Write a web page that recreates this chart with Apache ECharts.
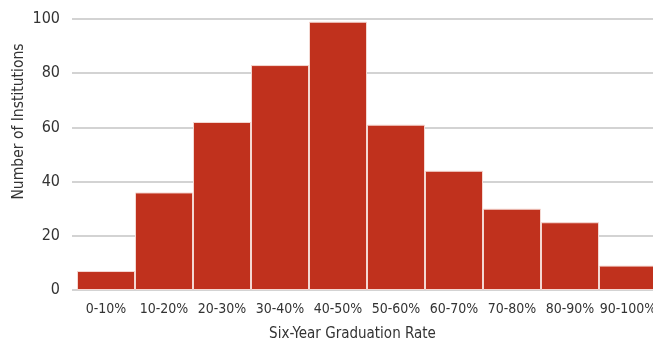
<!DOCTYPE html>
<html>
<head>
<meta charset="utf-8">
<script src="https://cdn.jsdelivr.net/npm/echarts@6/dist/echarts.min.js"></script>
<style>
  html, body { margin: 0; padding: 0; background: #fff; }
  #chart { width: 653px; height: 341px; }
</style>
</head>
<body>
<div id="chart"></div>
<script>
// Distribution of six-year graduation rates across institutions
const rateBins = ['0-10%', '10-20%', '20-30%', '30-40%', '40-50%', '50-60%', '60-70%', '70-80%', '80-90%', '90-100%'];
const institutionCounts = [7, 36, 62, 83, 99, 61, 44, 30, 25, 9];
const countTicks = { min: 0, max: 100, interval: 20 };

const FONT = '"Liberation Sans Narrow", "DejaVu Sans Condensed", Roboto, sans-serif';
const TEXT = '#333333';

const chart = echarts.init(document.getElementById('chart'), null, { renderer: 'canvas' });

chart.setOption({
  animation: false,
  backgroundColor: '#ffffff',
  grid: [
    // grid 0 carries the value axis, its gridlines and titles
    { left: 72, right: 0, top: 19, bottom: 51, outerBoundsMode: 'none', containLabel: false },
    // grid 1 carries the histogram bars
    { left: 77, width: 580, top: 19, bottom: 51, outerBoundsMode: 'none', containLabel: false }
  ],
  xAxis: [
    {
      gridIndex: 0, type: 'category', data: rateBins,
      axisLine: { show: false }, axisTick: { show: false }, axisLabel: { show: false },
      name: 'Six-Year Graduation Rate', nameLocation: 'middle', nameGap: 37, nameMoveOverlap: false,
      nameTextStyle: { fontFamily: FONT, fontSize: 15, color: TEXT, padding: [0, 20, 0, 0] }
    },
    {
      gridIndex: 1, type: 'category', data: rateBins,
      axisLine: { show: false }, axisTick: { show: false },
      axisLabel: { fontFamily: FONT, fontSize: 14, color: TEXT, margin: 12, interval: 0 }
    }
  ],
  yAxis: [
    {
      gridIndex: 0, type: 'value', min: countTicks.min, max: countTicks.max, interval: countTicks.interval,
      axisLine: { show: false }, axisTick: { show: false },
      axisLabel: { fontFamily: FONT, fontSize: 16, color: TEXT, margin: 12 },
      splitLine: { lineStyle: { color: '#c4c4c4', width: 1.5 } },
      name: 'Number of Institutions', nameLocation: 'middle', nameGap: 45, nameMoveOverlap: false,
      nameTextStyle: { fontFamily: FONT, fontSize: 15.5, color: TEXT, padding: [0, 0, 0, 66] }
    },
    {
      gridIndex: 1, type: 'value', min: countTicks.min, max: countTicks.max, interval: countTicks.interval,
      show: false, splitLine: { show: false }
    }
  ],
  series: [
    {
      type: 'bar', xAxisIndex: 1, yAxisIndex: 1,
      data: institutionCounts,
      barCategoryGap: '0%',
      itemStyle: { color: '#c0311d', borderColor: '#f4d8d2', borderWidth: 1 }
    }
  ]
});
</script>
</body>
</html>
